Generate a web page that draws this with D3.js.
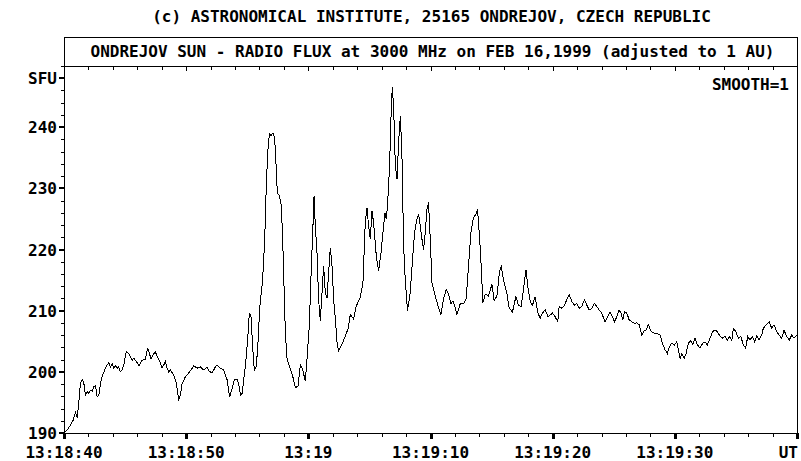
<!DOCTYPE html>
<html><head><meta charset="utf-8">
<script src="https://cdn.jsdelivr.net/npm/d3@7/dist/d3.min.js"></script>
<style>
html,body{margin:0;padding:0;background:#fff;}
text{font-family:"DejaVu Sans Mono","Liberation Mono",monospace;font-weight:bold;font-size:16px;fill:#000;}
</style></head>
<body>
<script>
// ---- data (seconds after 13:18:40 UT, flux in SFU) ----
const secs = [0.04,0.26,0.53,0.75,0.94,1.08,1.21,1.35,1.49,1.62,1.76,1.90,2.03,2.17,2.31,2.44,2.58,2.72,2.85,2.99,3.12,3.39,3.53,3.66,3.80,3.94,4.07,4.21,4.35,4.48,4.62,4.76,4.89,5.09,5.30,5.44,5.58,5.71,5.93,6.12,6.26,6.40,6.67,6.85,7.02,7.13,7.30,7.48,7.62,7.84,8.03,8.16,8.30,8.44,8.57,8.71,8.98,9.20,9.39,9.53,9.67,9.94,10.21,10.49,10.62,10.90,11.17,11.44,11.71,11.84,12.12,12.39,12.53,12.80,13.07,13.35,13.56,13.76,13.95,14.17,14.30,14.44,14.58,14.71,14.87,15.03,15.17,15.31,15.44,15.58,15.72,15.85,16.02,16.26,16.43,16.54,16.67,16.81,16.95,17.11,17.24,17.36,17.46,17.63,17.79,17.90,18.01,18.12,18.26,18.53,18.72,18.94,19.16,19.35,19.53,19.75,19.89,20.08,20.25,20.38,20.47,20.57,20.71,20.84,20.98,21.12,21.25,21.39,21.53,21.66,21.80,21.94,22.07,22.21,22.35,22.48,22.76,23.03,23.25,23.44,23.71,23.93,24.25,24.47,24.66,24.80,24.93,25.07,25.21,25.34,25.56,25.75,25.95,26.11,26.27,26.38,26.49,26.65,26.77,26.87,26.98,27.12,27.26,27.39,27.53,27.66,27.80,27.93,28.12,28.34,28.53,28.70,28.89,29.02,29.16,29.30,29.43,29.57,29.71,29.84,29.98,30.12,30.39,30.66,30.85,31.07,31.29,31.48,31.67,31.84,31.97,32.16,32.43,32.70,32.92,33.11,33.31,33.52,33.74,33.85,34.01,34.15,34.29,34.48,34.75,35.03,35.21,35.44,35.65,35.79,35.98,36.25,36.44,36.71,36.99,37.20,37.42,37.61,37.81,37.97,38.16,38.35,38.57,38.79,38.98,39.17,39.39,39.61,39.80,39.98,40.20,40.42,40.53,40.75,40.97,41.16,41.35,41.57,41.78,41.98,42.17,42.39,42.60,42.80,42.99,43.21,43.42,43.61,43.80,43.97,44.07,44.29,44.51,44.70,44.89,45.06,45.25,45.44,45.60,45.74,45.87,46.07,46.26,46.48,46.69,46.89,47.08,47.30,47.43,47.62,47.84,48.06,48.33,48.61,48.79,48.98,49.20,49.39,49.55,49.75,49.96,50.16,50.29,50.43,50.57,50.76,50.92,51.11,51.30,51.47,51.66,51.84,52.07,52.29,52.47,52.66,52.88,53.10,53.29,53.48,53.70,53.92,54.11,54.30,54.46,54.66,54.79,54.99,55.20,55.39,55.61,55.80,55.97,56.15,56.34,56.54,56.70,56.89,57.11,57.24,57.46,57.73,57.93,58.12,58.34,58.53,58.75,58.94,59.16,59.37,59.57,59.75,59.98];
const sfu = [190.1,190.5,191.3,192.1,193.3,192.5,194.9,198.2,198.7,198.2,196.2,196.8,196.4,197.0,196.8,197.6,197.7,195.9,196.2,198.2,199.2,200.6,201.1,201.5,200.8,201.3,200.6,201.0,200.6,200.8,200.0,200.3,201.1,203.3,203.0,202.5,201.9,202.2,201.7,201.0,201.4,201.9,202.1,203.9,202.8,202.1,202.8,203.3,202.5,201.7,200.6,201.1,201.7,200.6,200.0,200.3,199.5,198.1,195.5,196.2,198.1,199.2,199.8,200.6,201.0,200.6,200.8,200.3,200.8,200.2,199.8,200.8,201.1,200.6,200.3,198.7,195.9,197.3,198.7,198.8,198.1,196.2,196.5,198.7,201.4,205.2,209.6,209.0,204.1,200.3,200.8,203.6,210.4,215.1,221.7,229.3,235.8,238.9,238.6,239.1,238.3,233.7,229.3,228.8,227.1,221.7,214.0,206.4,202.1,200.4,199.3,197.4,197.7,201.2,200.4,198.5,202.1,207.5,217.3,223.9,228.8,223.9,219.5,211.9,208.3,212.9,217.3,212.9,212.1,216.2,220.3,217.3,211.9,208.6,204.8,203.4,204.5,205.9,207.0,209.4,208.6,210.8,212.1,214.6,224.4,226.8,223.9,221.7,226.3,224.4,219.0,216.5,219.5,222.8,226.0,225.0,227.4,233.7,241.8,246.5,243.5,233.7,231.5,237.5,241.8,235.8,220.6,215.1,210.0,212.9,218.4,222.8,225.0,225.8,223.9,221.7,220.0,222.8,226.6,227.7,221.7,214.6,212.4,210.5,209.4,211.9,213.5,212.7,211.1,211.6,210.8,209.4,211.1,211.1,211.9,217.3,222.8,225.2,225.8,226.6,222.2,217.3,211.3,212.7,212.4,214.3,211.6,212.4,216.5,217.2,215.0,212.9,210.4,209.8,212.3,210.9,210.7,213.4,216.7,213.9,211.5,210.9,212.3,209.6,208.8,209.6,210.2,209.0,209.3,209.6,209.0,208.2,210.7,210.4,210.9,211.8,212.6,211.5,210.9,211.2,210.4,210.7,211.8,210.9,210.1,210.4,211.2,210.7,210.1,209.8,209.3,208.2,209.0,209.8,209.0,208.2,209.0,210.1,209.6,208.5,209.8,209.6,208.5,208.2,207.9,208.0,207.7,205.9,206.6,206.8,207.7,206.6,206.3,206.2,206.0,204.7,203.6,203.0,204.1,204.7,204.4,204.9,203.6,202.2,203.0,202.2,203.0,204.7,205.1,204.4,205.5,204.4,203.9,204.7,204.9,204.4,205.5,206.6,206.8,206.6,205.8,205.5,205.8,205.2,205.8,205.1,207.1,206.6,205.5,205.8,204.4,203.9,205.8,205.2,205.8,204.9,205.9,205.2,206.0,207.1,207.7,208.2,207.1,207.7,206.6,206.0,205.5,206.8,205.8,205.2,206.0,205.5,206.0];

const xTickSecs = [0,10,20,30,40,50,60];
const xTickLabels = ["13:18:40","13:18:50","13:19","13:19:10","13:19:20","13:19:30","UT"];
const yTickValues = [190,200,210,220,230,240,248];
const yTickLabels = ["190","200","210","220","230","240","SFU"];
const titleTop = "(c) ASTRONOMICAL INSTITUTE, 25165 ONDREJOV, CZECH REPUBLIC";
const titleBox = "ONDREJOV SUN - RADIO FLUX at 3000 MHz on FEB 16,1999 (adjusted to 1 AU)";
const smoothNote = "SMOOTH=1";

// ---- drawing ----
const W = 801, H = 461;
const L = 64, R = 797, T = 66, B = 433, FT = 37;
const svg = d3.select("body").append("svg").attr("width", W).attr("height", H)
  .style("display","block").style("background","#fff");

const x = d3.scaleLinear().domain([0, 60]).range([L, R]);
const y = d3.scaleLinear().domain([190, 250]).range([B, T]);

const g = svg.append("g").attr("shape-rendering","crispEdges");
// frame
g.append("rect").attr("x", L + 0.5).attr("y", FT + 0.5).attr("width", R - L).attr("height", B - FT)
  .attr("fill","none").attr("stroke","#000").attr("stroke-width",1);
g.append("line").attr("x1", L).attr("x2", R + 1).attr("y1", T + 0.5).attr("y2", T + 0.5)
  .attr("stroke","#000");

// x ticks (minor every 2 s)
d3.range(0, 61, 2).forEach(s => {
  const major = s % 10 === 0;
  const px = Math.round(x(s));
  if (major) {
    g.append("rect").attr("x", px - 1).attr("y", B).attr("width", 3).attr("height", 6).attr("fill","#000");
  } else {
    g.append("rect").attr("x", px).attr("y", B).attr("width", 1).attr("height", 4).attr("fill","#000");
  }
  if (s > 0 && s < 60) {
    g.append("rect").attr("x", px).attr("y", T + 1).attr("width", 1).attr("height", major ? 4 : 3).attr("fill","#000");
  }
});

// y ticks (minor every 2 SFU)
d3.range(190, 251, 2).forEach(v => {
  const py = Math.round(y(v));
  const major = yTickValues.includes(v);
  if (major) {
    g.append("rect").attr("x", L - 5).attr("y", py - 1).attr("width", 5).attr("height", 2).attr("fill","#000");
  } else {
    g.append("rect").attr("x", L - 3).attr("y", py).attr("width", 3).attr("height", 1).attr("fill","#000");
  }
});

// labels
svg.selectAll("text.ylab").data(yTickValues).enter().append("text")
  .attr("class","ylab").attr("x", L - 7).attr("y", v => y(v) + 6)
  .attr("text-anchor","end").text((v,i) => yTickLabels[i]);

svg.selectAll("text.xlab").data(xTickSecs).enter().append("text")
  .attr("class","xlab")
  .attr("x", (s,i) => i === xTickSecs.length - 1 ? R + 1 : x(s))
  .attr("y", 458)
  .attr("text-anchor", (s,i) => i === xTickSecs.length - 1 ? "end" : "middle")
  .text((s,i) => xTickLabels[i]);

svg.append("text").attr("x", (L + R) / 2 + 1).attr("y", 22).attr("text-anchor","middle").text(titleTop);
svg.append("text").attr("x", (L + R) / 2 + 2).attr("y", 57).attr("text-anchor","middle").text(titleBox);
svg.append("text").attr("x", 789).attr("y", 90).attr("text-anchor","end").text(smoothNote);

// series
const pts = secs.map((s, i) => [s, sfu[i]]);
svg.append("path").datum(pts)
  .attr("fill","none").attr("stroke","#000").attr("stroke-width",1)
  .attr("shape-rendering","crispEdges")
  .attr("d", d3.line().x(d => x(d[0])).y(d => y(d[1])));
</script>
</body></html>
